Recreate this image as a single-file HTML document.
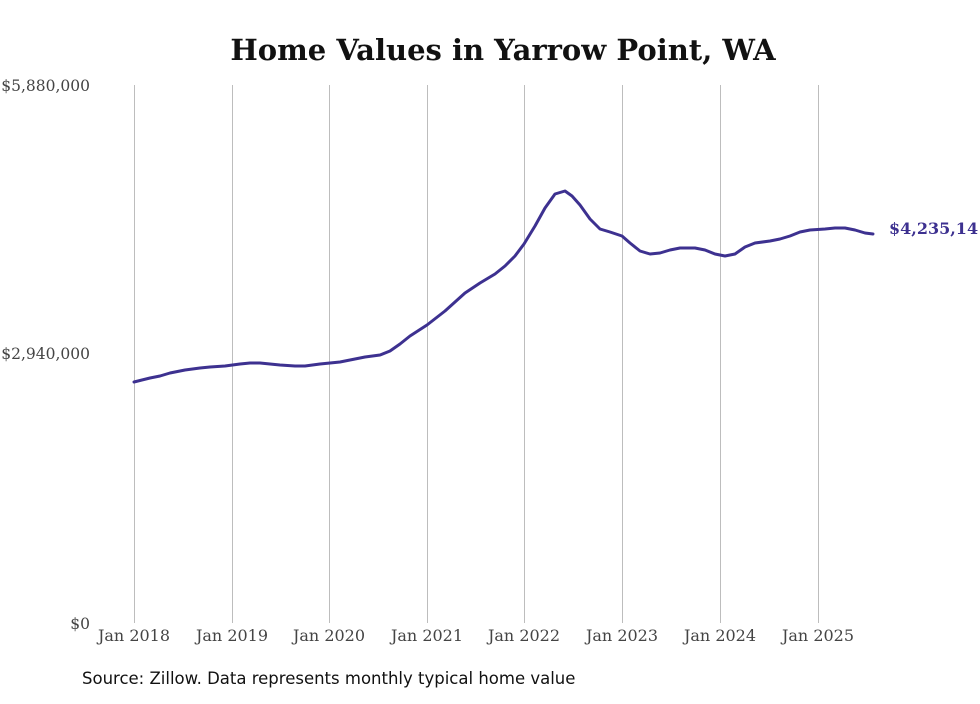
<!DOCTYPE html>
<html><head><meta charset="utf-8"><style>
html,body{margin:0;padding:0;background:#fff;}
body{width:980px;height:699px;overflow:hidden;position:relative;}
</style></head><body>
<svg width="980" height="699" viewBox="0 0 980 699" xmlns="http://www.w3.org/2000/svg">
<rect width="980" height="699" fill="#fff"/>
<text x="503" y="60" text-anchor="middle" font-family="DejaVu Serif, serif" font-weight="bold" font-size="29" fill="#111">Home Values in Yarrow Point, WA</text>
<g stroke="#bdbdbd" stroke-width="1">
<line x1="134.5" y1="85" x2="134.5" y2="623"/>
<line x1="232.5" y1="85" x2="232.5" y2="623"/>
<line x1="329.5" y1="85" x2="329.5" y2="623"/>
<line x1="427.5" y1="85" x2="427.5" y2="623"/>
<line x1="524.5" y1="85" x2="524.5" y2="623"/>
<line x1="622.5" y1="85" x2="622.5" y2="623"/>
<line x1="720.5" y1="85" x2="720.5" y2="623"/>
<line x1="818.5" y1="85" x2="818.5" y2="623"/>
</g>
<g font-family="DejaVu Serif, serif" font-size="16" fill="#444">
<g font-size="15.5">
<text x="90" y="91" text-anchor="end">$5,880,000</text>
<text x="90" y="359" text-anchor="end">$2,940,000</text>
<text x="90" y="629" text-anchor="end">$0</text>
</g>
<g text-anchor="middle">
<text x="134" y="641">Jan 2018</text>
<text x="232" y="641">Jan 2019</text>
<text x="329" y="641">Jan 2020</text>
<text x="427" y="641">Jan 2021</text>
<text x="524" y="641">Jan 2022</text>
<text x="622" y="641">Jan 2023</text>
<text x="720" y="641">Jan 2024</text>
<text x="818" y="641">Jan 2025</text>
</g>
</g>
<polyline fill="none" stroke="#3d3190" stroke-width="3" stroke-linejoin="round" stroke-linecap="round" points="134,382 150,378 160,376 170,373 185,370 200,368 210,367 225,366 240,364 250,363 260,363 280,365 295,366 305,366 320,364 340,362 350,360 365,357 380,355 390,351 400,344 410,336 427,325 445,311 465,293 480,283 495,274 505,266 515,256 524,244 535,226 545,208 555,194 565,191 572,196 580,205 590,219 600,229 610,232 622,236 630,243 640,251 650,254 660,253 670,250 680,248 695,248 705,250 715,254 725,256 735,254 745,247 755,243 770,241 780,239 790,236 800,232 810,230 825,229 835,228 845,228 855,230 865,233 873,234"/>
<text x="889" y="234" font-family="DejaVu Serif, serif" font-weight="bold" font-size="16" fill="#3d3190">$4,235,14</text>
<text x="82" y="684" font-family="DejaVu Sans, sans-serif" font-size="16.5" fill="#111">Source: Zillow. Data represents monthly typical home value</text>
</svg>
</body></html>
